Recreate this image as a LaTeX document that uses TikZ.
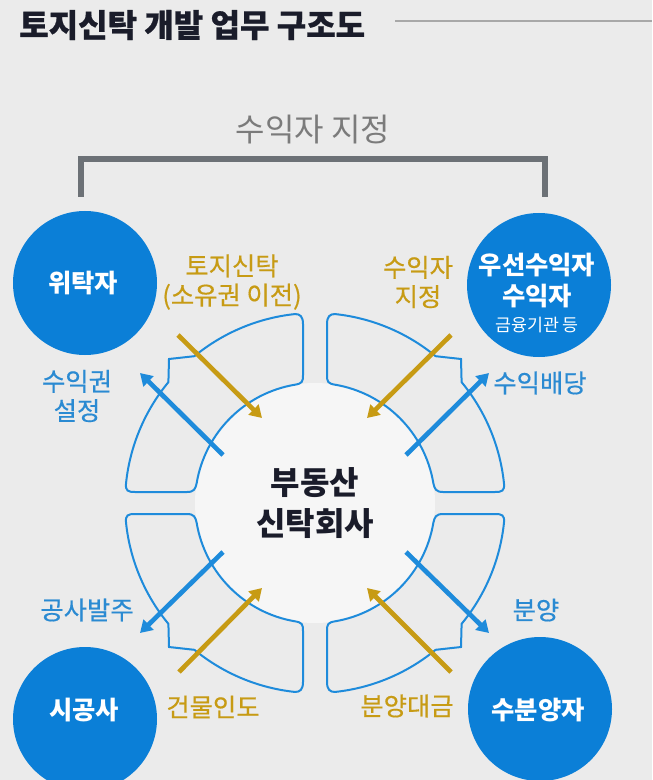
\documentclass[tikz,border=0pt]{standalone}
\usepackage{fontspec}
\setmainfont{Noto Sans CJK KR}
\usetikzlibrary{arrows.meta}
\definecolor{bgc}{HTML}{EBEBEB}
\definecolor{ctrc}{HTML}{F6F6F6}
\definecolor{circc}{HTML}{0B7FD7}
\definecolor{linec}{HTML}{1E8BDB}
\definecolor{lblue}{HTML}{2A8AD2}
\definecolor{goldc}{HTML}{C79B14}
\definecolor{brk}{HTML}{6C7176}
\definecolor{brtxt}{HTML}{7B7B7B}
\definecolor{ink}{HTML}{1A1C2A}
\definecolor{tline}{HTML}{A8A8A8}
\begin{document}
\begin{tikzpicture}[x=0.75pt,y=-0.75pt,
  qs/.style={draw=linec, line width=1.5pt},
  arrb/.style={draw=linec, line width=3.5pt, -{Triangle[length=9pt,width=10.5pt]}},
  arrg/.style={draw=goldc, line width=3.5pt, -{Triangle[length=9pt,width=10.5pt]}},
  bigc/.style={circle, fill=circc, minimum size=108pt, inner sep=0pt},
  ctext/.style={align=center, inner sep=0pt, text=white, font=\bfseries\fontsize{19pt}{23.5pt}\selectfont},
  lbl/.style={align=center, inner sep=0pt, font=\fontsize{19pt}{22pt}\selectfont\addfontfeature{FakeBold=0.5}},
  lg/.style={lbl, text=goldc},
  lb/.style={lbl, text=lblue}]
\fill[bgc] (0,0) rectangle (652,780);
\useasboundingbox (0,0) rectangle (652,780);

% title
\node[anchor=west, inner sep=0pt, text=ink, font=\bfseries\fontsize{24pt}{28pt}\selectfont\addfontfeature{FakeBold=0.6}] (title) at (19,25) {토지신탁 개발 업무 구조도};
\coordinate (tl1) at (395,21);
\coordinate (tl2) at (652,21);
\draw[tline, line width=1.6pt] (tl1) -- (tl2);

% bracket
\node[inner sep=0pt, text=brtxt, font=\fontsize{24pt}{28pt}\selectfont] (brt) at (313,130) {수익자 지정};
\coordinate (b1) at (81,197);
\coordinate (b2) at (81,159);
\coordinate (b3) at (545,159);
\coordinate (b4) at (545,197);
\draw[brk, line width=3.8pt] (b1) -- (b2) -- (b3) -- (b4);

% center circle
\node[circle, fill=ctrc, minimum size=180pt, inner sep=0pt, align=center, text=ink,
      font=\bfseries\fontsize{24pt}{30.5pt}\selectfont] (ctr) at (315,503) {부동산\\신탁회사};

% four outline shapes
\foreach \sx/\sy in {1/-1,-1/-1,1/1,-1/1}{
  \draw[qs, shift={(315,503)}, xscale=\sx, yscale=\sy]
    (-12,128) -- (-12,179) .. controls (-12,186.5) and (-15,189) .. (96:190)
    arc[start angle=96, end angle=129.4, radius=190]
    -- (-146,144) -- (140.5:190)
    arc[start angle=140.5, end angle=174, radius=190]
    .. controls (-189.8,12) and (-187,11) .. (-180,11)
    -- (-128,11) .. controls (-121,11) and (-119.5,14) .. (170.4:120)
    arc[start angle=170.4, end angle=99.6, radius=120]
    .. controls (-13,119.5) and (-12,121) .. (-12,128) -- cycle;
}

% outer circles
\node[bigc] (wt) at (85,283) {};
\node[ctext] (wtt) at (83,283) {위탁자};
\node[bigc] (ws) at (539,285) {};
\node[ctext] (wst) at (537,293)
  {우선수익자\\수익자\\[-4pt]{\mdseries\fontsize{13pt}{19pt}\selectfont 금융기관 등}};
\node[bigc] (sg) at (85,719) {};
\node[ctext] (sgt) at (84,710) {시공사};
\node[bigc] (sb) at (540,709) {};
\node[ctext] (sbt) at (538,710) {수분양자};

% arrow end points
\coordinate (g1s) at (178,335); \coordinate (g1e) at (262,418);
\coordinate (a1s) at (223,455); \coordinate (a1e) at (140,373);
\coordinate (g2s) at (451,335); \coordinate (g2e) at (367,418);
\coordinate (a2s) at (406,455); \coordinate (a2e) at (489,373);
\coordinate (a3s) at (223,552); \coordinate (a3e) at (140,633);
\coordinate (g3s) at (179,672); \coordinate (g3e) at (262,588);
\coordinate (a4s) at (406,552); \coordinate (a4e) at (489,633);
\coordinate (g4s) at (451,672); \coordinate (g4e) at (367,588);
\draw[arrg] (g1s) -- (g1e);
\draw[arrb] (a1s) -- (a1e);
\draw[arrg] (g2s) -- (g2e);
\draw[arrb] (a2s) -- (a2e);
\draw[arrb] (a3s) -- (a3e);
\draw[arrg] (g3s) -- (g3e);
\draw[arrb] (a4s) -- (a4e);
\draw[arrg] (g4s) -- (g4e);

% labels
\node[lg] (l1) at (232,282) {토지신탁\\(소유권 이전)};
\node[lg] (l2) at (418,282) {수익자\\지정};
\node[lb] (l3) at (77,396) {수익권\\설정};
\node[lb] (l4) at (540,383) {수익배당};
\node[lb] (l5) at (87,610) {공사발주};
\node[lb] (l6) at (536,610) {분양};
\node[lg] (l7) at (213,707) {건물인도};
\node[lg] (l8) at (407,706) {분양대금};
\end{tikzpicture}
\end{document}
